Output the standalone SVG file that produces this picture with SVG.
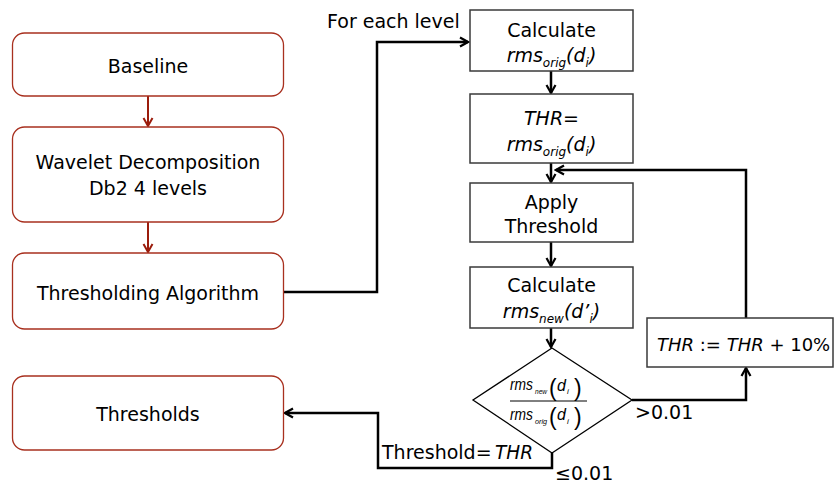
<svg xmlns="http://www.w3.org/2000/svg" width="835" height="487" viewBox="0 0 835 487">
<style>
  text { font-family: "DejaVu Sans", Verdana, sans-serif; font-size: 19px; fill: #000; }
  .c { text-anchor: middle; }
  .it { font-style: italic; }
  .sub { font-size: 12px; }
  .rbox { fill: #fff; stroke: #a8301f; stroke-width: 1.3; }
  .box { fill: #fff; stroke: #3a3a3a; stroke-width: 1.5; }
  .red { fill: none; stroke: #9b1c0c; stroke-width: 2; }
  .blk { fill: none; stroke: #000; stroke-width: 2.5; }
  .fr { font-family: "Liberation Sans", Arial, sans-serif; font-style: italic; font-size: 16px; }
  .frs { font-family: "Liberation Sans", Arial, sans-serif; font-style: italic; font-size: 8px; }
  .par { font-family: "Liberation Sans", Arial, sans-serif; font-size: 23px; }
  .t18 { font-size: 18px; }
</style>
<defs>
  <marker id="ar" markerUnits="userSpaceOnUse" viewBox="0 0 12 12" refX="10" refY="6" markerWidth="12" markerHeight="12" orient="auto">
    <path d="M2,1.5 L10,6 L2,10.5" fill="none" stroke="#9b1c0c" stroke-width="2"/>
  </marker>
  <marker id="ab" markerUnits="userSpaceOnUse" viewBox="0 0 12 12" refX="10" refY="6" markerWidth="12" markerHeight="12" orient="auto">
    <path d="M2,1.5 L10,6 L2,10.5" fill="none" stroke="#000" stroke-width="2.2"/>
  </marker>
</defs>
<rect width="835" height="487" fill="#fff"/>

<g id="connectors">
  <line class="red" x1="148" y1="96" x2="148" y2="126" marker-end="url(#ar)"/>
  <line class="red" x1="148" y1="222" x2="148" y2="252" marker-end="url(#ar)"/>
  <polyline class="blk" points="283,292 377,292 377,42 468,42" marker-end="url(#ab)"/>
  <line class="blk" x1="551" y1="71" x2="551" y2="93" marker-end="url(#ab)"/>
  <line class="blk" x1="551" y1="163" x2="551" y2="182" marker-end="url(#ab)"/>
  <line class="blk" x1="551" y1="242" x2="551" y2="266" marker-end="url(#ab)"/>
  <line class="blk" x1="551" y1="328" x2="551" y2="347" marker-end="url(#ab)"/>
  <polyline class="blk" points="632,400 746,400 746,368" marker-end="url(#ab)"/>
  <polyline class="blk" points="746,318 746,170 556,170" marker-end="url(#ab)"/>
  <polyline class="blk" points="552,453 552,468 378,468 378,413 285,413" marker-end="url(#ab)"/>
  <text x="327" y="28">For each level</text>
  <text x="635" y="419">&gt;0.01</text>
  <text x="555" y="480">≤0.01</text>
  <text x="382" y="459">Threshold=<tspan class="it" x="495" textLength="38" lengthAdjust="spacingAndGlyphs">THR</tspan></text>
</g>

<g id="baseline">
  <rect class="rbox" x="12.5" y="33" width="271" height="63" rx="12"/>
  <text class="c" x="148" y="73">Baseline</text>
</g>
<g id="wavelet">
  <rect class="rbox" x="12.5" y="127" width="271" height="95" rx="12"/>
  <text class="c" x="148" y="169">Wavelet Decomposition</text>
  <text class="c" x="148" y="195">Db2 4 levels</text>
</g>
<g id="thresholding">
  <rect class="rbox" x="12.5" y="253" width="271" height="76" rx="12"/>
  <text class="c" x="148" y="300">Thresholding Algorithm</text>
</g>
<g id="thresholds">
  <rect class="rbox" x="12.5" y="376" width="271" height="74" rx="12"/>
  <text class="c" x="148" y="421">Thresholds</text>
</g>

<g id="calc-orig">
  <rect class="box" x="470" y="10" width="163" height="61"/>
  <text class="c" x="551.5" y="37">Calculate</text>
  <text class="c it" x="551.5" y="62">rms<tspan class="sub" dy="5">orig</tspan><tspan dy="-5">(d</tspan><tspan class="sub" dy="5">i</tspan><tspan dy="-5">)</tspan></text>
</g>
<g id="thr-init">
  <rect class="box" x="470" y="94" width="163" height="69"/>
  <text class="c it" x="551.5" y="125">THR<tspan style="font-style:normal">=</tspan></text>
  <text class="c it" x="551.5" y="151">rms<tspan class="sub" dy="5">orig</tspan><tspan dy="-5">(d</tspan><tspan class="sub" dy="5">i</tspan><tspan dy="-5">)</tspan></text>
</g>
<g id="apply">
  <rect class="box" x="470" y="183" width="163" height="59"/>
  <text class="c" x="551.5" y="209">Apply</text>
  <text class="c" x="551.5" y="233">Threshold</text>
</g>
<g id="calc-new">
  <rect class="box" x="470" y="267" width="163" height="61"/>
  <text class="c" x="551.5" y="292">Calculate</text>
  <text class="c it" x="551.5" y="318">rms<tspan class="sub" dy="5">new</tspan><tspan dy="-5">(d’</tspan><tspan class="sub" dy="5">i</tspan><tspan dy="-5">)</tspan></text>
</g>
<g id="decision">
  <polygon points="552,348 632,400 552,453 473,400" fill="#fff" stroke="#000" stroke-width="1.3"/>
  <line x1="510" y1="401" x2="587" y2="401" stroke="#000" stroke-width="1"/>
  <text class="fr" x="510" y="390" textLength="23" lengthAdjust="spacingAndGlyphs">rms</text>
  <text class="frs" x="535" y="394" textLength="12" lengthAdjust="spacingAndGlyphs">new</text>
  <text class="par" x="549" y="396">(</text>
  <text class="fr" x="557" y="391">d</text>
  <text class="frs" x="567" y="394">i</text>
  <text class="par" x="574" y="396">)</text>
  <text class="fr" x="510" y="420" textLength="23" lengthAdjust="spacingAndGlyphs">rms</text>
  <text class="frs" x="535" y="424" textLength="12" lengthAdjust="spacingAndGlyphs">orig</text>
  <text class="par" x="549" y="425">(</text>
  <text class="fr" x="557" y="420">d</text>
  <text class="frs" x="567" y="424">i</text>
  <text class="par" x="574" y="425">)</text>
</g>
<g id="thr-inc">
  <rect class="box" x="647" y="318" width="186" height="49"/>
  <text class="t18" x="657" y="351"><tspan class="it">THR</tspan> := <tspan class="it">THR</tspan> + 10%</text>
</g>
</svg>
